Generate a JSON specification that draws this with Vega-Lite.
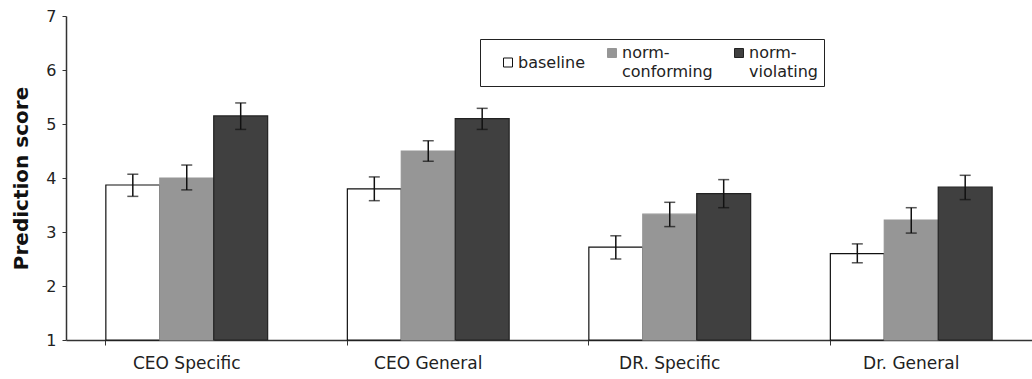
{
  "$schema": "https://vega.github.io/schema/vega-lite/v6.json",
  "width": 966,
  "height": 324,
  "autosize": {"type": "none"},
  "padding": {"left": 66, "top": 16, "right": 0, "bottom": 39},
  "background": "white",
  "config": {
    "view": {"stroke": null},
    "font": "DejaVu Sans",
    "legend": {
      "orient": "none",
      "legendX": 414,
      "legendY": 23,
      "direction": "horizontal",
      "columns": 3,
      "gridAlign": "each",
      "columnPadding": 4,
      "strokeColor": "#222",
      "padding": 6,
      "symbolType": "square",
      "symbolSize": 81,
      "symbolStrokeWidth": 1,
      "symbolOffset": 14,
      "labelFontSize": 16,
      "labelColor": "#222",
      "labelBaseline": "top",
      "labelOffset": 2,
      "labelLimit": 200
    }
  },
  "data": {
    "values": [
      {"cat": "CEO Specific", "cond": "baseline", "mean": 3.87, "lo": 3.66, "hi": 4.07},
      {"cat": "CEO Specific", "cond": "norm-conforming", "mean": 4.0, "lo": 3.78, "hi": 4.24},
      {"cat": "CEO Specific", "cond": "norm-violating", "mean": 5.15, "lo": 4.9, "hi": 5.39},
      {"cat": "CEO General", "cond": "baseline", "mean": 3.8, "lo": 3.58, "hi": 4.02},
      {"cat": "CEO General", "cond": "norm-conforming", "mean": 4.5, "lo": 4.31, "hi": 4.69},
      {"cat": "CEO General", "cond": "norm-violating", "mean": 5.1, "lo": 4.9, "hi": 5.29},
      {"cat": "DR. Specific", "cond": "baseline", "mean": 2.72, "lo": 2.5, "hi": 2.93},
      {"cat": "DR. Specific", "cond": "norm-conforming", "mean": 3.33, "lo": 3.1, "hi": 3.55},
      {"cat": "DR. Specific", "cond": "norm-violating", "mean": 3.71, "lo": 3.45, "hi": 3.97},
      {"cat": "Dr. General", "cond": "baseline", "mean": 2.6, "lo": 2.43, "hi": 2.78},
      {"cat": "Dr. General", "cond": "norm-conforming", "mean": 3.22, "lo": 2.98, "hi": 3.45},
      {"cat": "Dr. General", "cond": "norm-violating", "mean": 3.83, "lo": 3.6, "hi": 4.05}
    ]
  },
  "encoding": {
    "x": {
      "field": "cat",
      "type": "nominal",
      "sort": ["CEO Specific", "CEO General", "DR. Specific", "Dr. General"],
      "scale": {"paddingInner": 0.33, "paddingOuter": 0.165},
      "axis": {
        "title": null,
        "labelAngle": 0,
        "labelFontSize": 17,
        "labelColor": "#222",
        "labelPadding": 10,
        "bandPosition": 0,
        "tickSize": 5,
        "tickColor": "#333",
        "domainColor": "#333",
        "domainWidth": 1.5
      }
    },
    "xOffset": {
      "field": "cond",
      "type": "nominal",
      "sort": ["baseline", "norm-conforming", "norm-violating"]
    }
  },
  "layer": [
    {
      "mark": {"type": "bar", "strokeWidth": 1.2},
      "encoding": {
        "y": {
          "field": "mean",
          "type": "quantitative",
          "scale": {"domain": [1, 7], "zero": false},
          "axis": {
            "title": "Prediction score",
            "titleFontSize": 20,
            "titleFontWeight": "bold",
            "titleColor": "#111",
            "titlePadding": 14,
            "values": [1, 2, 3, 4, 5, 6, 7],
            "format": "d",
            "grid": false,
            "labelFontSize": 16,
            "labelColor": "#222",
            "labelPadding": 6,
            "tickSize": 4,
            "tickColor": "#333",
            "domainColor": "#333",
            "domainWidth": 1.5
          }
        },
        "y2": {"datum": 1},
        "color": {
          "field": "cond",
          "type": "nominal",
          "sort": ["baseline", "norm-conforming", "norm-violating"],
          "scale": {"domain": ["baseline", "norm-conforming", "norm-violating"], "range": ["#ffffff", "#969696", "#404040"]},
          "legend": {
            "title": null,
            "labelExpr": "datum.label == 'norm-conforming' ? ['norm-', 'conforming'] : datum.label == 'norm-violating' ? ['norm-', 'violating'] : datum.label",
            "encode": {"labels": {"update": {"lineHeight": {"value": 19}, "dy": {"value": -8}}}}
          }
        },
        "stroke": {
          "field": "cond",
          "type": "nominal",
          "sort": ["baseline", "norm-conforming", "norm-violating"],
          "scale": {"domain": ["baseline", "norm-conforming", "norm-violating"], "range": ["#111111", "#969696", "#222222"]},
          "legend": {
            "title": null,
            "labelExpr": "datum.label == 'norm-conforming' ? ['norm-', 'conforming'] : datum.label == 'norm-violating' ? ['norm-', 'violating'] : datum.label",
            "encode": {"labels": {"update": {"lineHeight": {"value": 19}, "dy": {"value": -8}}}}
          }
        }
      }
    },
    {
      "mark": {"type": "rule", "color": "#111", "strokeWidth": 1.5},
      "encoding": {
        "y": {"field": "lo", "type": "quantitative"},
        "y2": {"field": "hi"}
      }
    },
    {
      "mark": {"type": "tick", "color": "#111", "size": 11, "thickness": 1.5, "orient": "horizontal"},
      "encoding": {"y": {"field": "lo", "type": "quantitative"}}
    },
    {
      "mark": {"type": "tick", "color": "#111", "size": 11, "thickness": 1.5, "orient": "horizontal"},
      "encoding": {"y": {"field": "hi", "type": "quantitative"}}
    }
  ]
}
